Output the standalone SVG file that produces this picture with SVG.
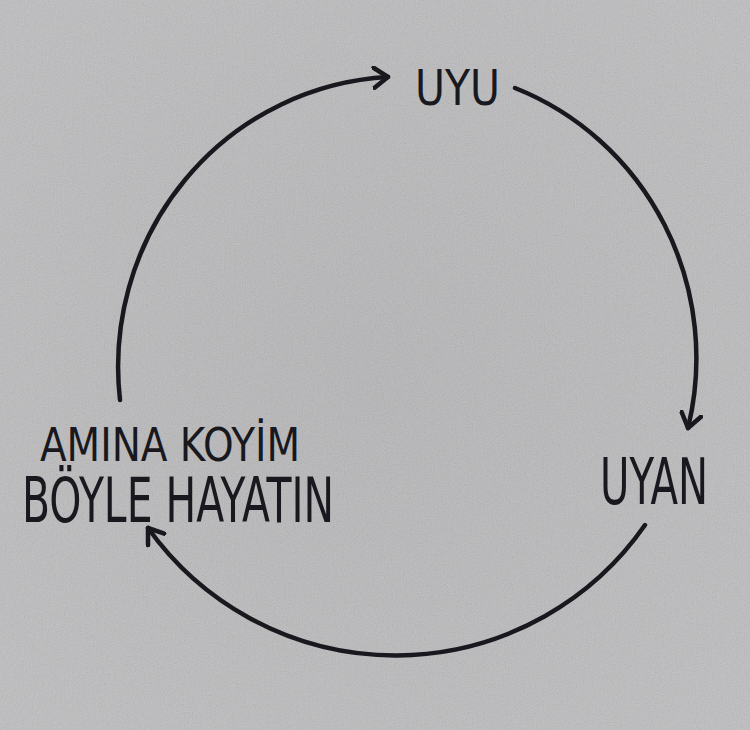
<svg xmlns="http://www.w3.org/2000/svg" width="750" height="730" viewBox="0 0 750 730">
<defs>
<filter id="noise" x="0" y="0" width="100%" height="100%">
<feTurbulence type="fractalNoise" baseFrequency="0.9" numOctaves="2" seed="3" result="t"/>
<feColorMatrix in="t" type="matrix" values="0.33 0.33 0.33 0 0  0.33 0.33 0.33 0 0  0.33 0.33 0.33 0 0  0 0 0 0 1"/>
</filter>
<marker id="arrow" viewBox="-16 -12 20 24" markerWidth="20" markerHeight="24" refX="0" refY="0" orient="auto" markerUnits="userSpaceOnUse">
<path d="M-14,-10 L0,0 L-14,10" fill="none" stroke="#18181e" stroke-width="4.5" stroke-linecap="round" stroke-linejoin="round"/>
</marker>
<radialGradient id="bg" cx="50%" cy="50%" r="70%">
<stop offset="0" stop-color="#b5b5b7"/>
<stop offset="1" stop-color="#bfbfc1"/>
</radialGradient>
</defs>
<style>
.lbl{font-family:"DejaVu Sans Condensed","Liberation Sans Narrow","Liberation Sans",sans-serif;fill:#18181e;}
.arc{fill:none;stroke:#18181e;stroke-width:4.5;stroke-linecap:round;}
</style>
<rect width="750" height="730" fill="url(#bg)"/>
<rect width="750" height="730" filter="url(#noise)" opacity="0.22"/>
<g id="connectors">
<path class="arc" d="M120,400 A285,290 0 0 1 388,77" marker-end="url(#arrow)"/>
<path class="arc" d="M515,88 A285,290 0 0 1 688,428" marker-end="url(#arrow)"/>
<path class="arc" d="M645,525 A304,304 0 0 1 148,528" marker-end="url(#arrow)"/>
</g>
<g id="node-uyu">
<text class="lbl" x="415" y="105" font-size="50" textLength="85" lengthAdjust="spacingAndGlyphs">UYU</text>
</g>
<g id="node-uyan">
<text class="lbl" x="600" y="504" font-size="64" textLength="108" lengthAdjust="spacingAndGlyphs">UYAN</text>
</g>
<g id="node-amina">
<text class="lbl" x="40" y="461" font-size="47" textLength="260" lengthAdjust="spacingAndGlyphs">AMINA KOYİM</text>
<text class="lbl" x="22" y="522" font-size="62" textLength="312" lengthAdjust="spacingAndGlyphs">BÖYLE HAYATIN</text>
</g>
</svg>
